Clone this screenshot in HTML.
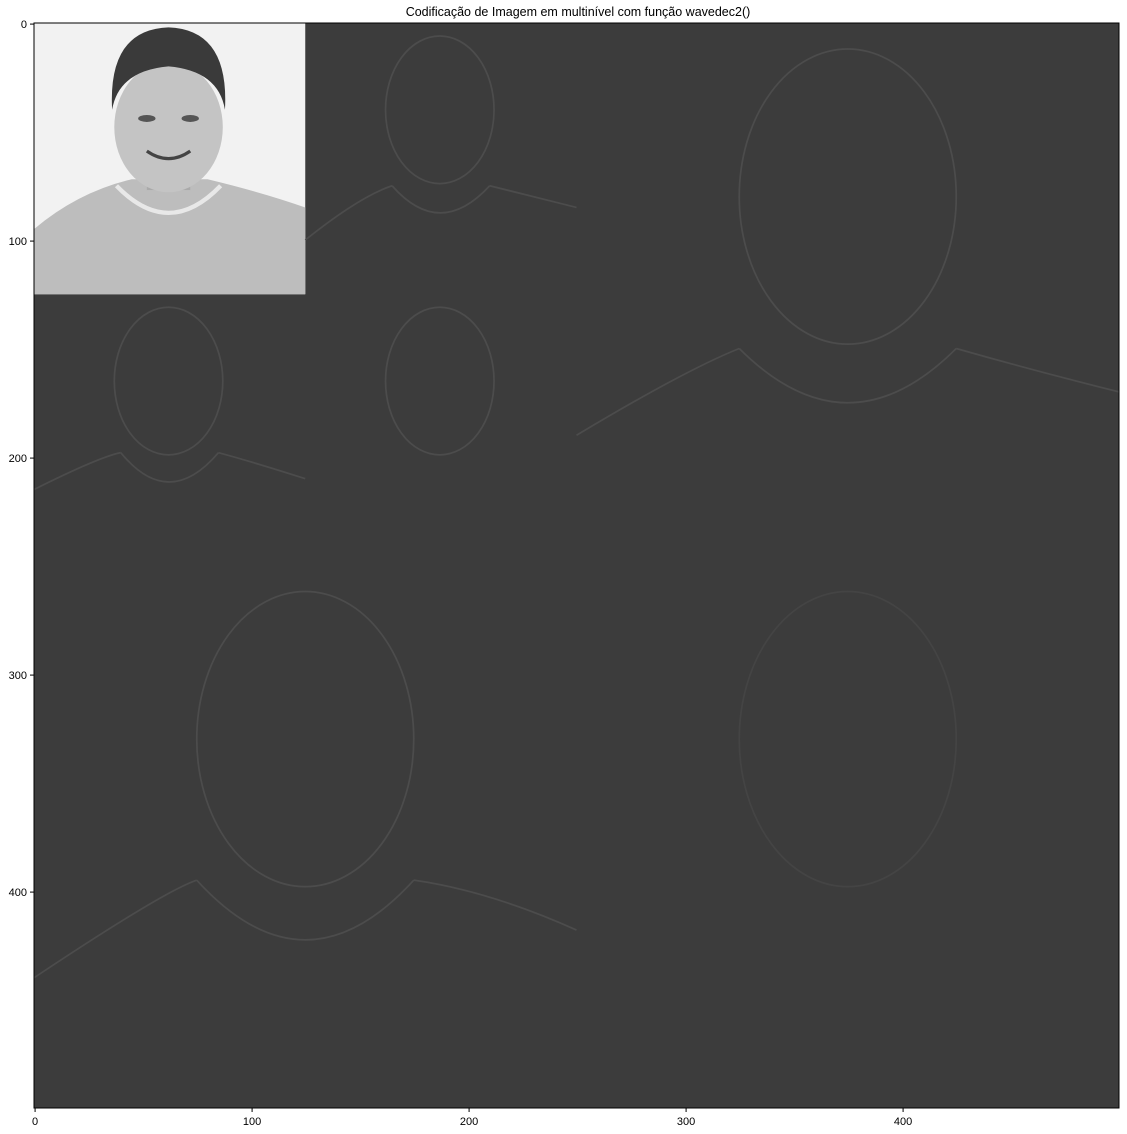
<!DOCTYPE html>
<html><head><meta charset="utf-8"><style>
body{margin:0;background:#fff;width:1127px;height:1134px;overflow:hidden;font-family:"Liberation Sans",sans-serif}
</style></head><body>
<svg width="1127" height="1134" style="position:absolute;left:0;top:0">
<text x="578" y="16" text-anchor="middle" font-size="12.5">Codificação de Imagem em multinível com função wavedec2()</text>
<g id="img" transform="translate(34,23) scale(2.17)">
<rect x="0" y="0" width="500" height="500" fill="#3c3c3c"/>
<g>
<rect x="0" y="0" width="125" height="125" fill="#f2f2f2"/>
<path d="M0 95 Q20 78 45 72 L80 72 Q105 78 125 85 L125 125 L0 125 Z" fill="#bdbdbd"/>
<path d="M38 75 Q62 100 86 75" fill="none" stroke="#e8e8e8" stroke-width="2"/>
<rect x="52" y="55" width="20" height="22" fill="#aaa"/>
<ellipse cx="62" cy="48" rx="25" ry="30" fill="#c4c4c4"/>
<path d="M36 40 Q34 3 62 2 Q90 3 88 40 Q85 22 62 20 Q39 22 36 40Z" fill="#3a3a3a"/>
<ellipse cx="52" cy="44" rx="4" ry="1.6" fill="#555"/><ellipse cx="72" cy="44" rx="4" ry="1.6" fill="#555"/>
<path d="M52 59 Q62 66 72 59" fill="none" stroke="#444" stroke-width="1.5"/>
</g>
<g fill="none" stroke="#4c4c4c" stroke-width="0.8">
<ellipse cx="187" cy="40" rx="25" ry="34"/><path d="M125 100 Q150 80 165 75 M210 75 Q230 80 250 85 M165 75 Q187 100 210 75"/>
<ellipse cx="62" cy="165" rx="25" ry="34"/><path d="M0 215 Q30 200 40 198 M85 198 Q100 202 125 210 M40 198 Q62 225 85 198"/>
<ellipse cx="187" cy="165" rx="25" ry="34"/>
<ellipse cx="375" cy="80" rx="50" ry="68"/><path d="M250 190 Q300 160 325 150 M425 150 Q460 160 500 170 M325 150 Q375 200 425 150"/>
<ellipse cx="125" cy="330" rx="50" ry="68"/><path d="M0 440 Q60 400 75 395 M175 395 Q210 400 250 418 M75 395 Q125 450 175 395"/>
<ellipse cx="375" cy="330" rx="50" ry="68" stroke="#444"/>
</g>
</g>
<rect x="34" y="23" width="1085" height="1085" fill="none" stroke="#000" stroke-width="1"/>
<g id="ticks" font-size="11"></g>
</svg>
<script>
const tickValues=[0,100,200,300,400];
const x0=34,y0=23,s=2.17;
const g=document.getElementById('ticks');
const ns='http://www.w3.org/2000/svg';
function sx(v){return x0+(v+0.5)*s;}
function sy(v){return y0+(v+0.5)*s;}
tickValues.forEach(v=>{
  let l=document.createElementNS(ns,'line');
  
  
  l.setAttribute('x1',sx(v));l.setAttribute('x2',sx(v));l.setAttribute('y1',1108);l.setAttribute('y2',1112);l.setAttribute('stroke','#000');g.appendChild(l);
  let t=document.createElementNS(ns,'text');
  
  
  t.setAttribute('x',sx(v));t.setAttribute('y',1125);t.setAttribute('text-anchor','middle');t.textContent=v;g.appendChild(t);
  let l2=document.createElementNS(ns,'line');
  
  
  l2.setAttribute('x1',30);l2.setAttribute('x2',34);l2.setAttribute('y1',sy(v));l2.setAttribute('y2',sy(v));l2.setAttribute('stroke','#000');g.appendChild(l2);
  let t2=document.createElementNS(ns,'text');
  
  
  t2.setAttribute('x',27);t2.setAttribute('y',sy(v)+4);t2.setAttribute('text-anchor','end');t2.textContent=v;g.appendChild(t2);
});
</script>
</body></html>
